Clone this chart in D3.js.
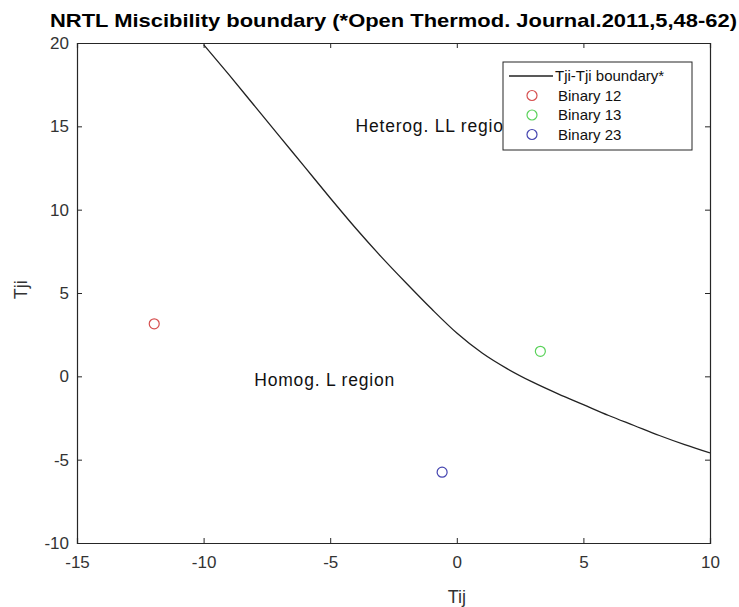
<!DOCTYPE html>
<html>
<head>
<meta charset="utf-8">
<script src="https://cdn.jsdelivr.net/npm/d3@7"></script>
<style>
  body { margin: 0; background: #fff; }
  svg text { font-family: "Liberation Sans", Arial, sans-serif; }
</style>
</head>
<body>
<div id="chart"></div>
<script>
// boundary curve Tij -> Tji
const BOUND_X = [-10, -9, -8, -7, -6, -5, -4, -3, -2, -1, 0, 1, 2, 3, 4, 5, 6, 7, 8, 9, 10];
const BOUND_Y = [19.9, 18.1, 16.25, 14.4, 12.55, 10.7, 8.9, 7.2, 5.6, 4.05, 2.6, 1.4, 0.45, -0.35, -1.05, -1.7, -2.35, -2.95, -3.55, -4.1, -4.6];

// binary points
const BIN_NAMES = ['Binary 12', 'Binary 13', 'Binary 23'];
const BIN_X = [-11.95, 3.3, -0.58];
const BIN_Y = [3.15, 1.5, -5.75];
const BIN_COLORS = ['#d65050', '#5ad25a', '#4545b0'];

const X_TICKS = [-15, -10, -5, 0, 5, 10];
const Y_TICKS = [-10, -5, 0, 5, 10, 15, 20];

const W = 739, H = 607;
const M = { left: 77, right: 29, top: 43, bottom: 64 };
const AXIS_COLOR = '#262626';

const svg = d3.select('#chart')
  .append('svg')
  .attr('width', W)
  .attr('height', H);

const x = d3.scaleLinear().domain([-15, 10]).range([M.left, W - M.right]);
const y = d3.scaleLinear().domain([-10, 20]).range([H - M.bottom, M.top]);

// clip for the curve
svg.append('clipPath').attr('id', 'plotclip')
  .append('rect')
  .attr('x', M.left).attr('y', M.top)
  .attr('width', W - M.left - M.right)
  .attr('height', H - M.top - M.bottom);

// axes, ticks inward (box on), plain hyphen minus like matlab
const tickLen = 5;
const fmt = d => String(d);
const xAxis = svg.append('g')
  .attr('transform', `translate(0, ${H - M.bottom})`)
  .call(d3.axisBottom(x).tickValues(X_TICKS).tickSize(-tickLen).tickPadding(13).tickFormat(fmt));
const xTop = svg.append('g')
  .attr('transform', `translate(0, ${M.top})`)
  .call(d3.axisTop(x).tickValues(X_TICKS).tickSize(-tickLen).tickFormat(''));
const yAxis = svg.append('g')
  .attr('transform', `translate(${M.left}, 0)`)
  .call(d3.axisLeft(y).tickValues(Y_TICKS).tickSize(-tickLen).tickPadding(8).tickFormat(fmt));
const yRight = svg.append('g')
  .attr('transform', `translate(${W - M.right}, 0)`)
  .call(d3.axisRight(y).tickValues(Y_TICKS).tickSize(-tickLen).tickFormat(''));

[xAxis, xTop, yAxis, yRight].forEach(g => {
  g.select('.domain').attr('stroke', AXIS_COLOR).attr('stroke-width', 1.2);
  g.selectAll('.tick line').attr('stroke', AXIS_COLOR);
  g.selectAll('.tick text')
    .attr('fill', '#333')
    .style('font-size', '17px');
});

// boundary line
const line = d3.line()
  .x((d, i) => x(BOUND_X[i]))
  .y(d => y(d))
  .curve(d3.curveMonotoneX);

svg.append('path')
  .datum(BOUND_Y)
  .attr('clip-path', 'url(#plotclip)')
  .attr('d', line)
  .attr('fill', 'none')
  .attr('stroke', '#222')
  .attr('stroke-width', 1.3);

// binary markers
svg.selectAll('circle.bin')
  .data(BIN_NAMES)
  .enter()
  .append('circle')
  .attr('class', 'bin')
  .attr('cx', (d, i) => x(BIN_X[i]))
  .attr('cy', (d, i) => y(BIN_Y[i]))
  .attr('r', 5)
  .attr('fill', 'none')
  .attr('stroke', (d, i) => BIN_COLORS[i])
  .attr('stroke-width', 1.2);

// region labels (legend gets drawn over the first one)
svg.append('text')
  .attr('x', x(-4)).attr('y', y(15))
  .attr('dy', '0.35em')
  .attr('textLength', 158)
  .style('font-size', '17.5px')
  .attr('fill', '#111')
  .text('Heterog. LL region');

svg.append('text')
  .attr('x', x(-8)).attr('y', y(-0.2))
  .attr('dy', '0.35em')
  .attr('textLength', 140)
  .style('font-size', '17.5px')
  .attr('fill', '#111')
  .text('Homog. L region');

// title
svg.append('text')
  .attr('x', 50).attr('y', 27)
  .attr('textLength', 687)
  .attr('lengthAdjust', 'spacingAndGlyphs')
  .style('font-size', '19px')
  .style('font-weight', 'bold')
  .attr('fill', '#000')
  .text('NRTL Miscibility boundary (*Open Thermod. Journal.2011,5,48-62)');

// axis labels
svg.append('text')
  .attr('x', x(0)).attr('y', 603)
  .attr('text-anchor', 'middle')
  .style('font-size', '18px')
  .attr('fill', '#333')
  .text('Tij');

svg.append('text')
  .attr('transform', `translate(27, ${y(5.2)}) rotate(-90)`)
  .attr('text-anchor', 'middle')
  .style('font-size', '18px')
  .attr('fill', '#333')
  .text('Tji');

// legend
const LEG_X = 503, LEG_Y = 62, LEG_W = 189, LEG_H = 88, ROW = 19.5;
const legend = svg.append('g').attr('id', 'legend');
legend.append('rect')
  .attr('x', LEG_X).attr('y', LEG_Y)
  .attr('width', LEG_W).attr('height', LEG_H)
  .attr('fill', '#fff')
  .attr('stroke', AXIS_COLOR)
  .attr('stroke-width', 1);

const legItems = ['Tji-Tji boundary*', ...BIN_NAMES];
const rows = legend.selectAll('g.row')
  .data(legItems)
  .enter()
  .append('g')
  .attr('class', 'row')
  .attr('transform', (d, i) => `translate(${LEG_X}, ${LEG_Y + 14 + i * ROW})`);

rows.filter((d, i) => i === 0)
  .append('line')
  .attr('x1', 6).attr('x2', 50)
  .attr('stroke', '#222').attr('stroke-width', 1.3);

rows.filter((d, i) => i > 0)
  .append('circle')
  .attr('cx', 29).attr('r', 5)
  .attr('fill', 'none')
  .attr('stroke', (d, i) => BIN_COLORS[i])
  .attr('stroke-width', 1.2);

rows.append('text')
  .attr('x', (d, i) => i === 0 ? 52 : 55)
  .attr('dy', '0.35em')
  .style('font-size', '15px')
  .attr('fill', '#111')
  .text(d => d);
</script>
</body>
</html>
